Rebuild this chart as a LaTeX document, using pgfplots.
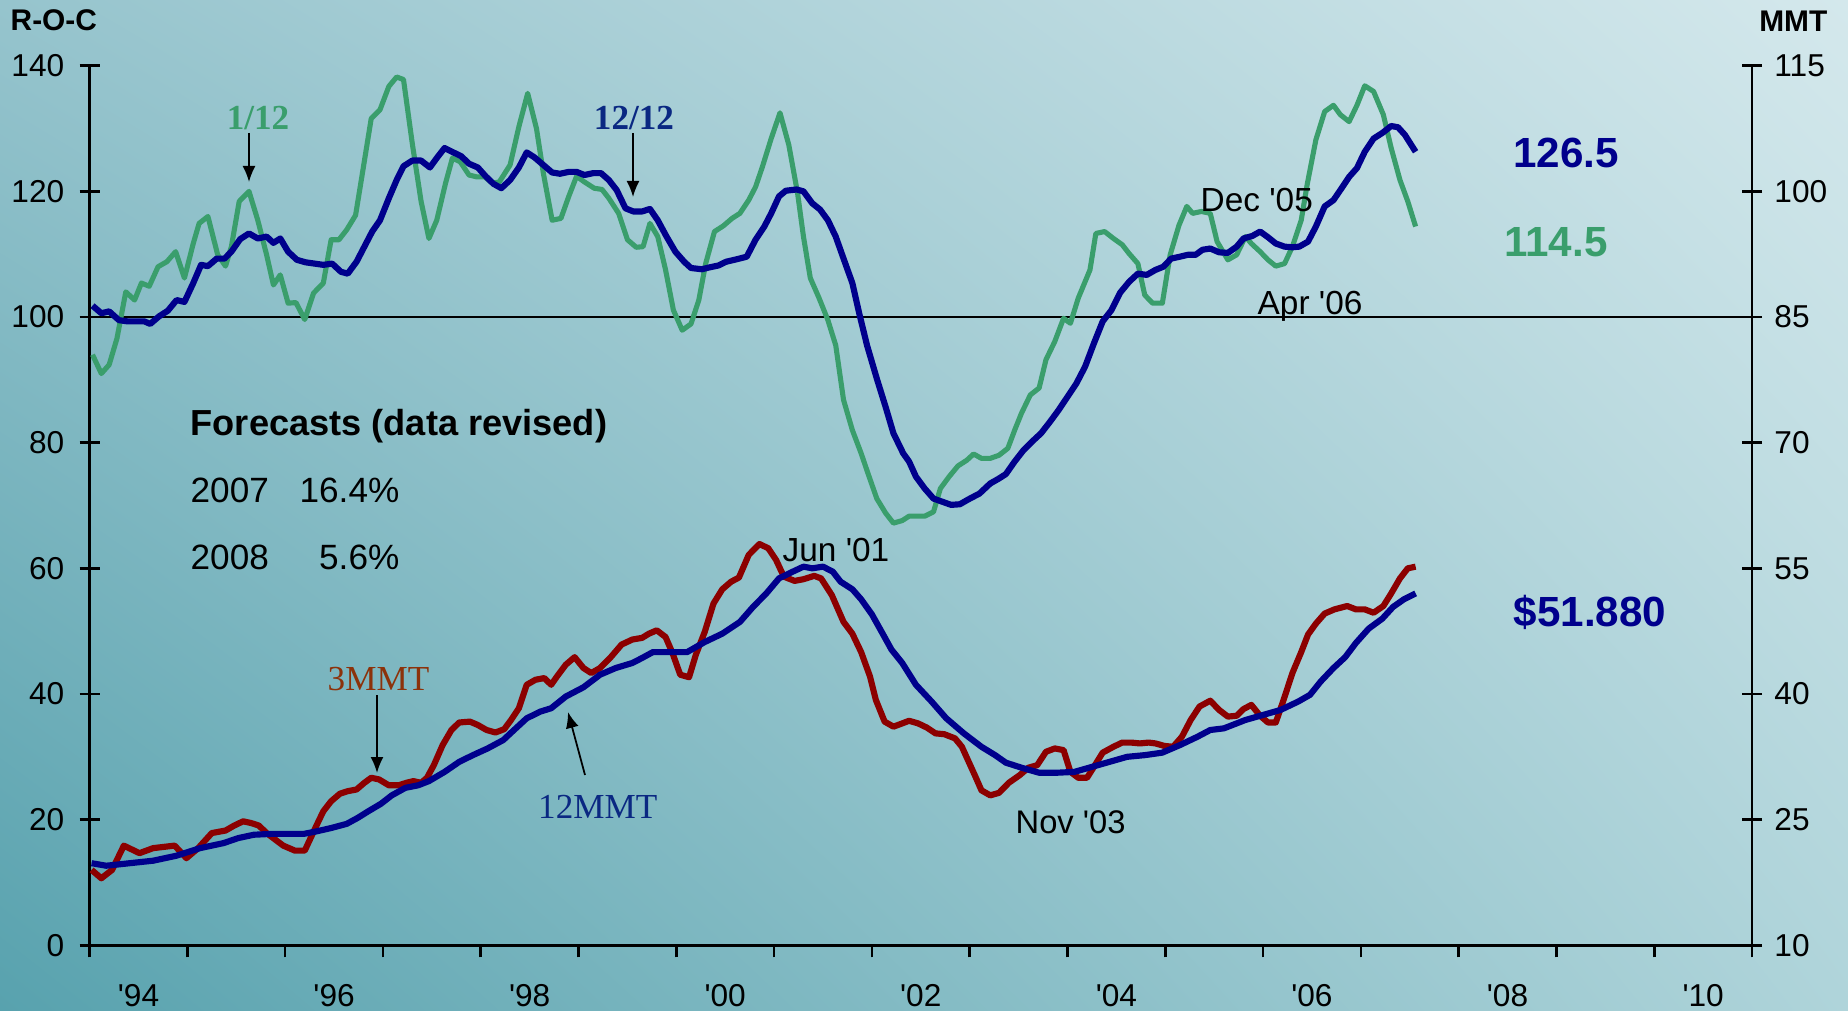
\documentclass[border=0pt]{standalone}
\usepackage{fontspec}
\setmainfont{Liberation Sans}
\newfontfamily\timesf{Liberation Serif}
\usepackage{pgfplots}
\pgfplotsset{compat=1.18}
\usetikzlibrary{arrows.meta,shadings}
\definecolor{rocgreen}{RGB}{58,158,108}
\definecolor{navy}{RGB}{0,0,140}
\definecolor{darkred}{RGB}{140,0,0}
\definecolor{brownlab}{RGB}{140,50,10}
\definecolor{navylab}{RGB}{10,40,130}
\definecolor{bgul}{RGB}{150,196,205}
\definecolor{bgur}{RGB}{212,232,236}
\definecolor{bgll}{RGB}{88,162,174}
\definecolor{bglr}{RGB}{175,212,218}
\newcommand{\ap}{\textquotesingle}
\pgfplotsset{base/.style={at={(0.896cm,0.647cm)}, anchor=south west, scale only axis,
  width=16.624cm, height=8.796cm, xmin=1994, xmax=2011,
  axis line style={line width=0.75pt, black}, tick style={line width=0.75pt, black},
  /pgf/number format/assume math mode=true,
  ticklabel style={font=\fontsize{9}{10}\selectfont}}}
\begin{document}
\begin{tikzpicture}[x=1cm,y=1cm]
\shade[upper left=bgul, upper right=bgur, lower left=bgll, lower right=bglr]
  (0,0) rectangle (18.48,10.10);
\useasboundingbox (0,0) rectangle (18.48,10.10);
% x axis
\begin{axis}[base, ymin=0, ymax=1, axis x line*=bottom, axis y line=none,
  xtick={1994.5,1996.5,1998.5,2000.5,2002.5,2004.5,2006.5,2008.5,2010.5},
  xticklabels={\ap94,\ap96,\ap98,\ap00,\ap02,\ap04,\ap06,\ap08,\ap10},
  minor xtick={1994,1995,...,2011}, tick align=outside,
  major tick length=0pt, minor tick length=0.12cm,
  xticklabel style={yshift=-0.27cm}]
\end{axis}
% left axis: R-O-C
\begin{axis}[base, ymin=0, ymax=140, axis y line*=left, axis x line=none,
  ytick={0,20,...,140}, tick align=center, major tick length=0.2cm,
  yticklabel style={xshift=-0.03cm}]
\draw[line width=0.45pt, black] (axis cs:1994,100) -- (axis cs:2011,100);
% 1/12 R-O-C
\addplot[rocgreen, line width=1.45pt, line join=round] coordinates {
(1994.03,94.0)(1994.12,91.0)(1994.20,92.4)(1994.28,96.6)(1994.37,104.0)(1994.46,102.7)(1994.53,105.4)(1994.61,104.9)(1994.70,108.0)(1994.79,108.8)(1994.88,110.4)(1994.97,106.2)(1995.06,111.7)(1995.12,114.9)(1995.21,116.0)(1995.31,109.9)(1995.39,108.1)(1995.45,111.2)(1995.53,118.4)(1995.63,120.0)(1995.72,115.4)(1995.81,109.9)(1995.88,105.1)(1995.95,106.7)(1996.03,102.2)(1996.11,102.3)(1996.20,99.6)(1996.29,103.8)(1996.39,105.4)(1996.47,112.3)(1996.55,112.3)(1996.63,113.9)(1996.72,116.2)(1996.79,122.9)(1996.88,131.6)(1996.97,133.0)(1997.06,136.7)(1997.14,138.2)(1997.21,137.8)(1997.30,127.6)(1997.39,118.4)(1997.47,112.5)(1997.55,115.4)(1997.64,121.3)(1997.71,125.3)(1997.79,124.7)(1997.88,122.6)(1997.96,122.3)(1998.04,122.3)(1998.12,121.3)(1998.19,121.5)(1998.30,124.2)(1998.39,130.3)(1998.48,135.6)(1998.57,130.0)(1998.64,122.9)(1998.73,115.4)(1998.82,115.7)(1998.90,119.2)(1998.98,122.4)(1999.06,121.5)(1999.16,120.5)(1999.24,120.3)(1999.31,118.9)(1999.41,116.5)(1999.50,112.3)(1999.59,111.1)(1999.66,111.2)(1999.73,114.9)(1999.81,112.8)(1999.89,107.5)(1999.97,101.1)(2000.06,97.9)(2000.15,98.9)(2000.23,102.7)(2000.30,108.5)(2000.39,113.6)(2000.48,114.5)(2000.57,115.7)(2000.65,116.5)(2000.74,118.6)(2000.81,120.7)(2000.88,123.9)(2000.97,128.4)(2001.06,132.5)(2001.15,127.4)(2001.24,119.7)(2001.30,112.8)(2001.37,106.2)(2001.46,103.0)(2001.55,99.5)(2001.63,95.5)(2001.71,86.8)(2001.80,82.0)(2001.89,78.3)(2001.96,75.1)(2002.05,71.1)(2002.14,68.8)(2002.22,67.2)(2002.31,67.6)(2002.38,68.3)(2002.54,68.3)(2002.63,69.0)(2002.70,72.7)(2002.79,74.6)(2002.88,76.3)(2002.97,77.2)(2003.04,78.2)(2003.12,77.5)(2003.21,77.5)(2003.30,78.0)(2003.39,79.1)(2003.46,82.0)(2003.53,84.7)(2003.62,87.6)(2003.71,88.7)(2003.78,93.2)(2003.87,96.1)(2003.96,99.8)(2004.03,99.0)(2004.11,103.0)(2004.23,107.5)(2004.29,113.3)(2004.38,113.6)(2004.47,112.5)(2004.56,111.5)(2004.63,110.1)(2004.72,108.5)(2004.79,103.5)(2004.87,102.2)(2004.97,102.2)(2005.05,109.9)(2005.14,114.6)(2005.22,117.6)(2005.28,116.5)(2005.37,116.8)(2005.46,116.5)(2005.53,112.0)(2005.64,109.1)(2005.73,109.9)(2005.82,112.8)(2005.88,111.7)(2005.97,110.4)(2006.05,109.1)(2006.13,108.1)(2006.22,108.5)(2006.30,111.2)(2006.39,115.4)(2006.45,121.0)(2006.54,128.2)(2006.63,132.7)(2006.72,133.7)(2006.79,132.2)(2006.88,131.1)(2006.96,133.7)(2007.04,136.8)(2007.13,135.9)(2007.23,132.2)(2007.31,126.9)(2007.40,121.8)(2007.48,118.4)(2007.56,114.4)
};
% 12/12 R-O-C
\addplot[navy, line width=1.75pt, line join=round] coordinates {
(1994.03,101.8)(1994.12,100.6)(1994.20,100.9)(1994.30,99.5)(1994.39,99.3)(1994.48,99.3)(1994.56,99.3)(1994.62,98.9)(1994.71,100.1)(1994.80,101.0)(1994.89,102.7)(1994.97,102.4)(1995.06,105.4)(1995.14,108.3)(1995.21,108.1)(1995.30,109.3)(1995.38,109.3)(1995.45,110.4)(1995.54,112.4)(1995.63,113.3)(1995.72,112.5)(1995.81,112.8)(1995.88,111.8)(1995.95,112.5)(1996.03,110.4)(1996.12,109.1)(1996.21,108.7)(1996.30,108.5)(1996.39,108.3)(1996.48,108.5)(1996.57,107.2)(1996.64,106.9)(1996.73,108.8)(1996.81,111.2)(1996.89,113.6)(1996.97,115.4)(1997.06,118.9)(1997.14,121.8)(1997.21,124.0)(1997.30,124.9)(1997.39,124.9)(1997.48,123.8)(1997.55,125.3)(1997.63,126.9)(1997.72,126.2)(1997.80,125.6)(1997.88,124.4)(1997.97,123.8)(1998.05,122.4)(1998.13,121.2)(1998.21,120.5)(1998.30,121.8)(1998.39,123.8)(1998.47,126.2)(1998.55,125.4)(1998.64,124.2)(1998.73,123.0)(1998.81,122.8)(1998.90,123.1)(1998.98,123.1)(1999.06,122.6)(1999.15,122.9)(1999.23,122.9)(1999.31,121.8)(1999.39,120.2)(1999.48,117.3)(1999.56,116.8)(1999.65,116.8)(1999.73,117.2)(1999.81,115.4)(1999.90,112.8)(1999.99,110.4)(2000.08,108.8)(2000.15,107.8)(2000.26,107.6)(2000.34,107.9)(2000.43,108.2)(2000.51,108.8)(2000.62,109.2)(2000.72,109.6)(2000.81,112.3)(2000.90,114.4)(2000.97,116.5)(2001.05,119.2)(2001.12,120.1)(2001.23,120.3)(2001.30,120.0)(2001.39,118.1)(2001.47,117.1)(2001.55,115.4)(2001.63,112.8)(2001.71,109.3)(2001.80,105.4)(2001.87,100.6)(2001.95,95.5)(2002.05,90.2)(2002.14,85.7)(2002.22,81.5)(2002.32,78.3)(2002.38,77.0)(2002.45,74.6)(2002.54,72.7)(2002.63,71.1)(2002.72,70.6)(2002.81,70.1)(2002.90,70.2)(2002.99,71.0)(2003.10,71.9)(2003.21,73.5)(2003.30,74.3)(2003.37,75.0)(2003.46,77.0)(2003.55,78.8)(2003.64,80.2)(2003.73,81.5)(2003.82,83.3)(2003.91,85.2)(2004.00,87.3)(2004.09,89.4)(2004.18,92.1)(2004.27,95.8)(2004.36,99.3)(2004.45,101.1)(2004.54,103.9)(2004.63,105.6)(2004.72,106.9)(2004.81,106.7)(2004.90,107.5)(2004.98,108.0)(2005.06,109.3)(2005.15,109.6)(2005.23,109.9)(2005.31,109.9)(2005.38,110.7)(2005.46,110.9)(2005.55,110.3)(2005.64,110.2)(2005.73,111.2)(2005.80,112.5)(2005.89,112.9)(2005.97,113.6)(2006.05,112.7)(2006.13,111.7)(2006.22,111.2)(2006.30,111.1)(2006.37,111.2)(2006.46,112.0)(2006.54,114.4)(2006.63,117.6)(2006.72,118.6)(2006.79,120.2)(2006.88,122.3)(2006.96,123.7)(2007.04,126.3)(2007.13,128.4)(2007.22,129.3)(2007.31,130.4)(2007.38,130.2)(2007.45,129.0)(2007.56,126.3)
};
\end{axis}
% right axis: MMT
\begin{axis}[base, ymin=10, ymax=115, axis y line*=right, axis x line=none,
  ytick={10,25,...,115}, tick align=center, major tick length=0.2cm]
% 3MMT
\addplot[darkred, line width=1.75pt, line join=round] coordinates {
(1994.02,19.0)(1994.12,18.0)(1994.23,19.0)(1994.35,21.9)(1994.51,21.0)(1994.65,21.6)(1994.87,21.9)(1994.99,20.4)(1995.11,21.6)(1995.25,23.4)(1995.39,23.7)(1995.48,24.3)(1995.57,24.8)(1995.65,24.6)(1995.73,24.3)(1995.81,23.4)(1995.98,21.9)(1996.10,21.3)(1996.20,21.3)(1996.32,24.3)(1996.39,26.0)(1996.47,27.2)(1996.56,28.1)(1996.64,28.4)(1996.73,28.6)(1996.81,29.4)(1996.88,30.0)(1996.96,29.8)(1997.06,29.1)(1997.16,29.1)(1997.24,29.4)(1997.31,29.6)(1997.39,29.4)(1997.45,30.0)(1997.52,31.5)(1997.61,33.9)(1997.70,35.7)(1997.78,36.6)(1997.89,36.7)(1997.97,36.3)(1998.06,35.7)(1998.15,35.4)(1998.24,35.8)(1998.31,36.9)(1998.39,38.3)(1998.47,41.1)(1998.56,41.7)(1998.65,41.9)(1998.72,41.1)(1998.78,42.1)(1998.87,43.5)(1998.96,44.4)(1999.05,43.1)(1999.13,42.5)(1999.22,43.1)(1999.33,44.4)(1999.44,45.9)(1999.55,46.5)(1999.65,46.7)(1999.72,47.2)(1999.80,47.6)(1999.89,46.8)(1999.96,44.9)(2000.04,42.3)(2000.13,42.0)(2000.20,44.7)(2000.29,47.4)(2000.38,50.8)(2000.47,52.5)(2000.56,53.4)(2000.64,53.9)(2000.74,56.6)(2000.85,57.9)(2000.94,57.4)(2001.02,56.0)(2001.10,54.0)(2001.21,53.5)(2001.30,53.7)(2001.41,54.1)(2001.48,53.8)(2001.59,51.8)(2001.71,48.6)(2001.80,47.2)(2001.89,45.0)(2001.98,42.1)(2002.04,39.3)(2002.13,36.7)(2002.22,36.1)(2002.29,36.4)(2002.38,36.8)(2002.47,36.5)(2002.56,36.0)(2002.65,35.3)(2002.74,35.2)(2002.85,34.7)(2002.92,33.7)(2002.99,31.9)(2003.06,30.1)(2003.12,28.5)(2003.21,27.9)(2003.30,28.2)(2003.40,29.4)(2003.51,30.3)(2003.60,31.2)(2003.69,31.5)(2003.78,33.1)(2003.87,33.5)(2003.96,33.3)(2004.03,30.7)(2004.11,30.0)(2004.20,30.0)(2004.27,31.3)(2004.36,33.0)(2004.47,33.7)(2004.56,34.2)(2004.65,34.2)(2004.74,34.1)(2004.83,34.2)(2004.90,34.1)(2004.99,33.8)(2005.08,33.7)(2005.17,34.9)(2005.26,36.9)(2005.35,38.5)(2005.46,39.2)(2005.55,38.1)(2005.64,37.3)(2005.73,37.4)(2005.80,38.2)(2005.88,38.7)(2005.97,37.4)(2006.05,36.6)(2006.13,36.6)(2006.21,39.3)(2006.30,42.5)(2006.39,45.0)(2006.46,47.1)(2006.54,48.4)(2006.63,49.6)(2006.73,50.1)(2006.86,50.5)(2006.95,50.1)(2007.04,50.1)(2007.13,49.7)(2007.23,50.5)(2007.31,52.0)(2007.40,53.8)(2007.48,55.0)(2007.56,55.2)
};
% 12MMT
\addplot[navy, line width=1.75pt, line join=round] coordinates {
(1994.02,19.8)(1994.17,19.5)(1994.41,19.8)(1994.65,20.1)(1994.89,20.7)(1995.13,21.6)(1995.37,22.2)(1995.52,22.8)(1995.68,23.2)(1995.86,23.3)(1996.03,23.3)(1996.19,23.3)(1996.32,23.6)(1996.47,24.0)(1996.63,24.5)(1996.74,25.2)(1996.85,26.0)(1996.98,26.9)(1997.09,27.9)(1997.23,28.8)(1997.36,29.1)(1997.47,29.6)(1997.63,30.7)(1997.78,31.9)(1997.92,32.7)(1998.07,33.5)(1998.23,34.5)(1998.34,35.7)(1998.47,37.1)(1998.61,37.9)(1998.72,38.3)(1998.87,39.7)(1999.05,40.8)(1999.22,42.3)(1999.38,43.1)(1999.55,43.7)(1999.65,44.3)(1999.76,45.0)(1999.93,45.0)(2000.11,45.0)(2000.29,46.2)(2000.47,47.2)(2000.65,48.6)(2000.785,50.4)(2000.92,52.0)(2001.05,53.8)(2001.19,54.6)(2001.30,55.2)(2001.39,55.0)(2001.50,55.2)(2001.60,54.6)(2001.68,53.4)(2001.80,52.5)(2001.89,51.3)(2002.00,49.5)(2002.11,47.2)(2002.20,45.3)(2002.31,43.7)(2002.45,41.1)(2002.61,39.1)(2002.76,37.1)(2002.94,35.3)(2003.12,33.7)(2003.26,32.7)(2003.37,31.8)(2003.53,31.2)(2003.71,30.6)(2003.89,30.6)(2004.07,30.7)(2004.25,31.3)(2004.43,31.9)(2004.61,32.5)(2004.79,32.7)(2004.97,33.0)(2005.15,33.9)(2005.33,34.9)(2005.46,35.7)(2005.60,35.9)(2005.82,36.9)(2006.00,37.5)(2006.18,38.1)(2006.36,39.1)(2006.48,39.9)(2006.59,41.5)(2006.72,43.1)(2006.84,44.4)(2006.95,46.1)(2007.08,47.8)(2007.22,49.0)(2007.33,50.4)(2007.44,51.3)(2007.56,52.0)
};
\end{axis}
% titles and annotations
\node[anchor=west, inner sep=0pt, font=\fontsize{8.5}{10}\selectfont\bfseries] at (0.10,9.90) {R-O-C};
\node[anchor=east, inner sep=0pt, font=\fontsize{8.5}{10}\selectfont\bfseries] at (18.28,9.89) {MMT};
\node[text=rocgreen, inner sep=0pt, font=\timesf\fontsize{10}{12}\selectfont\bfseries] at (2.58,8.92) {1/12};
\draw[-{Latex[length=1.6mm,width=1.3mm]}, line width=0.5pt] (2.49,8.77) -- (2.49,8.28);
\node[text=navylab, inner sep=0pt, font=\timesf\fontsize{10}{12}\selectfont\bfseries] at (6.34,8.92) {12/12};
\draw[-{Latex[length=1.6mm,width=1.3mm]}, line width=0.5pt] (6.33,8.77) -- (6.33,8.13);
\node[anchor=base west, inner sep=0pt, font=\fontsize{9.5}{11}\selectfont] at (12.00,7.983) {Dec \ap05};
\node[anchor=base west, inner sep=0pt, font=\fontsize{9.5}{11}\selectfont] at (12.57,6.95) {Apr \ap06};
\node[anchor=base west, inner sep=0pt, font=\fontsize{9.5}{11}\selectfont] at (7.82,4.483) {Jun \ap01};
\node[anchor=base west, inner sep=0pt, font=\fontsize{9.3}{11}\selectfont] at (10.15,1.77) {Nov \ap03};
\node[anchor=base west, inner sep=0pt, text=brownlab, font=\timesf\fontsize{10}{12}\selectfont] at (3.27,3.20) {3MMT};
\draw[-{Latex[length=1.6mm,width=1.3mm]}, line width=0.5pt] (3.77,3.15) -- (3.77,2.37);
\node[anchor=base west, inner sep=0pt, text=navylab, font=\timesf\fontsize{10}{12}\selectfont] at (5.375,1.92) {12MMT};
\draw[-{Latex[length=1.6mm,width=1.3mm]}, line width=0.5pt] (5.85,2.35) -- (5.68,2.98);
\node[anchor=base west, inner sep=0pt, font=\fontsize{10.3}{12}\selectfont\bfseries] at (1.90,5.74) {Forecasts (data revised)};
\node[anchor=base west, inner sep=0pt, font=\fontsize{10}{12}\selectfont] at (1.90,5.07) {2007};
\node[anchor=base east, inner sep=0pt, font=\fontsize{10}{12}\selectfont] at (4.00,5.07) {16.4\%};
\node[anchor=base west, inner sep=0pt, font=\fontsize{10}{12}\selectfont] at (1.90,4.40) {2008};
\node[anchor=base east, inner sep=0pt, font=\fontsize{10}{12}\selectfont] at (4.00,4.40) {5.6\%};
\node[text=navy, inner sep=0pt, font=\fontsize{12}{14}\selectfont\bfseries] at (15.66,8.57) {126.5};
\node[text=rocgreen, inner sep=0pt, font=\fontsize{12}{14}\selectfont\bfseries] at (15.56,7.68) {114.5};
\node[text=navy, inner sep=0pt, font=\fontsize{12}{14}\selectfont\bfseries] at (15.90,3.98) {\$51.880};
\end{tikzpicture}
\end{document}
